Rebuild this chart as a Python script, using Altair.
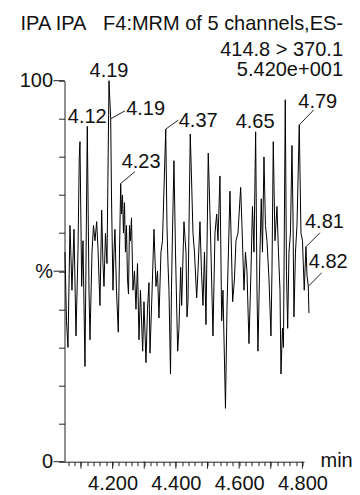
import altair as alt
import pandas as pd

FONT = "Liberation Sans"
NB = "\u00a0"

# retention time (min) and relative intensity (%)
times = [
    4.0495, 4.0543, 4.0590, 4.0653, 4.0716, 4.0780, 4.0843, 4.0906, 4.0947, 4.0969,
    4.1023, 4.1064, 4.1127, 4.1200, 4.1254, 4.1285, 4.1349, 4.1396, 4.1443, 4.1497,
    4.1538, 4.1601, 4.1655, 4.1696, 4.1728, 4.1775, 4.1823, 4.1886, 4.1940, 4.1965,
    4.2012, 4.2044, 4.2075, 4.2123, 4.2180, 4.2218, 4.2256, 4.2281, 4.2313, 4.2344,
    4.2376, 4.2407, 4.2439, 4.2471, 4.2502, 4.2534, 4.2565, 4.2597, 4.2644, 4.2692,
    4.2739, 4.2787, 4.2834, 4.2881, 4.2951, 4.2992, 4.3055, 4.3103, 4.3150, 4.3182,
    4.3245, 4.3308, 4.3371, 4.3419, 4.3466, 4.3529, 4.3577, 4.3680, 4.3719, 4.3751,
    4.3782, 4.3830, 4.3861, 4.3893, 4.3940, 4.3988, 4.4057, 4.4098, 4.4152, 4.4184,
    4.4256, 4.4320, 4.4351, 4.4383, 4.4455, 4.4493, 4.4541, 4.4588, 4.4658, 4.4699,
    4.4762, 4.4809, 4.4857, 4.4904, 4.4952, 4.5024, 4.5062, 4.5110, 4.5173, 4.5236,
    4.5290, 4.5331, 4.5394, 4.5448, 4.5489, 4.5568, 4.5615, 4.5710, 4.5758, 4.5795,
    4.5852, 4.5900, 4.5963, 4.6048, 4.6089, 4.6153, 4.6200, 4.6247, 4.6311, 4.6374,
    4.6421, 4.6469, 4.6522, 4.6564, 4.6595, 4.6658, 4.6699, 4.6737, 4.6785, 4.6832,
    4.6880, 4.6943, 4.7006, 4.7038, 4.7079, 4.7132, 4.7196, 4.7243, 4.7291, 4.7322,
    4.7370, 4.7401, 4.7458, 4.7496, 4.7534, 4.7575, 4.7622, 4.7670, 4.7701, 4.7733,
    4.7780, 4.7828, 4.7900, 4.7954, 4.8002, 4.8058, 4.8112, 4.8144, 4.8185, 4.8207,
]
intensity = [
    55, 37, 30, 62, 45, 61, 33, 55, 80, 84,
    46, 58, 25, 88, 45, 32, 55, 62, 58, 63,
    56, 41, 66, 52, 46, 60, 52, 100, 90, 70,
    45, 55, 61, 45, 34, 55, 73, 65, 70, 60,
    68, 55, 62, 48, 44, 62, 58, 64, 45, 50,
    40, 52, 32, 45, 29, 42, 26, 40, 47, 28.5,
    44, 61, 46, 50, 37.7, 55, 58, 87.3, 62, 52,
    45, 23, 45, 60, 79, 55, 29, 35, 51, 41,
    63, 55, 38, 42, 86, 75, 60, 55, 43, 50,
    63, 50, 41, 55, 36, 81, 70, 55, 33, 60,
    65, 58, 75, 37, 45, 14, 40, 71, 55, 42,
    48, 58, 60, 72, 62, 45, 55, 50, 31, 50,
    67, 55, 86.6, 45, 29, 55, 69, 55, 80, 62,
    58, 48, 33, 50, 84, 58, 67, 55, 45, 23,
    35, 30, 95, 50, 35, 55, 60, 83, 65, 38,
    55, 62, 88.4, 60, 58, 45, 56.4, 49, 46, 39,
]

# peak annotations
peak_labels = ["4.12", "4.19", "4.19", "4.23", "4.37", "4.65", "4.79", "4.81", "4.82"]
peak_times = [4.1200, 4.1886, 4.1940, 4.2256, 4.3680, 4.6522, 4.7900, 4.8112, 4.8185]
peak_pcts = [88, 100, 90, 73, 87.3, 86.6, 88.4, 56.4, 46]

header_lines = ["IPA IPA" + NB * 3 + "F4:MRM of 5 channels,ES-", "414.8 > 370.1", "5.420e+001"]

y_ticks = [0, 10, 20, 30, 40, 50, 60, 70, 80, 90, 100]
y_long_ticks = [0, 50, 100]
x_minor_ticks = [4.06, 4.08, 4.10, 4.12, 4.14, 4.16, 4.18, 4.20, 4.22, 4.24,
                 4.26, 4.28, 4.30, 4.32, 4.34, 4.36, 4.38, 4.40, 4.42, 4.44,
                 4.46, 4.48, 4.50, 4.52, 4.54, 4.56, 4.58, 4.60, 4.62, 4.64,
                 4.66, 4.68, 4.70, 4.72, 4.74, 4.76, 4.78, 4.80]
x_major_ticks = [4.1, 4.2, 4.3, 4.4, 4.5, 4.6, 4.7, 4.8]

# layout (pixels) for annotations: align, dx, dy, leader end offset
label_layout = [
    ("center", 0, -3.5, None),
    ("center", 0, -3.5, None),
    ("left", 15.5, -4, (14.3, -8)),
    ("left", 1, -16, (14.3, -12)),
    ("left", 13, -2.5, (12.6, -9)),
    ("center", -0.5, -3.5, None),
    ("center", 18.5, -16.5, (14.5, -15)),
    ("center", 18.5, -19, (14, -14)),
    ("center", 20, -18.5, (13.4, -13.7)),
]

W, H = 239.5, 381
INK = "#111111"

xscale = alt.Scale(domain=[4.048, 4.805], nice=False, zero=False)
yscale = alt.Scale(domain=[0, 100], nice=False)

xaxis = alt.Axis(
    values=x_minor_ticks, tickSize=4, tickColor="#222", domainColor="#222",
    labelExpr="abs(datum.value*5 - round(datum.value*5)) < 0.001 ? format(datum.value, '.3f') : ''",
    labelOverlap=False, labelFlush=False, labelPadding=8.3,
    labelFont=FONT, labelFontSize=20, labelColor=INK, grid=False,
    title="min", titleFont=FONT, titleFontSize=20, titleFontWeight="normal",
    titleColor=INK, titleX=255.5, titleY=5, titleAlign="left",
    titleBaseline="alphabetic")
yaxis = alt.Axis(
    values=y_ticks, tickSize=6, tickColor="#222", domainColor="#222",
    labelExpr="datum.value == 100 ? '100' : datum.value == 50 ? '%' : datum.value == 0 ? '0' : ''",
    labelOverlap=False, labelFlush=False, labelPadding=6,
    labelFont=FONT, labelFontSize=20, labelColor=INK, grid=False, title=None)


def X(field):
    return alt.X(field, scale=xscale, axis=xaxis)


def Y(field):
    return alt.Y(field, scale=yscale, axis=yaxis)


df = pd.DataFrame({"t": times, "pct": intensity})

line = alt.Chart(df).mark_line(color="#000000", strokeWidth=1).encode(
    x=X("t:Q"), y=Y("pct:Q"), order="t:Q")

layers = [line]

# long ticks on the axes
ylong = alt.Chart(pd.DataFrame({"t": [4.1] * 3, "pct": y_long_ticks})).mark_rule(
    color="#222", strokeWidth=1).encode(y=Y("pct:Q"), x=alt.value(-11), x2=alt.value(0))
xlong = alt.Chart(pd.DataFrame({"t": x_major_ticks})).mark_rule(
    color="#222", strokeWidth=1).encode(x=X("t:Q"), y=alt.value(H), y2=alt.value(H + 7))
layers += [ylong, xlong]

for lab, t, p, (align, dx, dy, lead) in zip(peak_labels, peak_times, peak_pcts, label_layout):
    d = pd.DataFrame({"t": [t], "pct": [p], "label": [lab]})
    layers.append(alt.Chart(d).mark_text(
        align=align, baseline="alphabetic", dx=dx, dy=dy, font=FONT, fontSize=20, color=INK
    ).encode(x=X("t:Q"), y=Y("pct:Q"), text="label:N"))
    if lead is not None:
        layers.append(alt.Chart(d).mark_rule(
            color="#222", strokeWidth=1, x2Offset=lead[0], y2Offset=lead[1]
        ).encode(x=X("t:Q"), x2="t:Q", y=Y("pct:Q"), y2="pct:Q"))

header_y = [-50.5, -25, -4.7]
for txt, yy in zip(header_lines, header_y):
    layers.append(alt.Chart(pd.DataFrame({"txt": [txt]})).mark_text(
        align="right", baseline="alphabetic", font=FONT, fontSize=20, color=INK
    ).encode(x=alt.value(278.5), y=alt.value(yy), text="txt:N"))

chart = alt.layer(*layers).properties(
    width=W, height=H,
    autosize=alt.AutoSizeParams(type="none"),
    padding={"left": 56.5, "top": 72.7, "right": 48, "bottom": 36},
    background="white",
).configure_view(stroke=None)

chart.save("out.html", embed_options={"renderer": "svg", "actions": False})
